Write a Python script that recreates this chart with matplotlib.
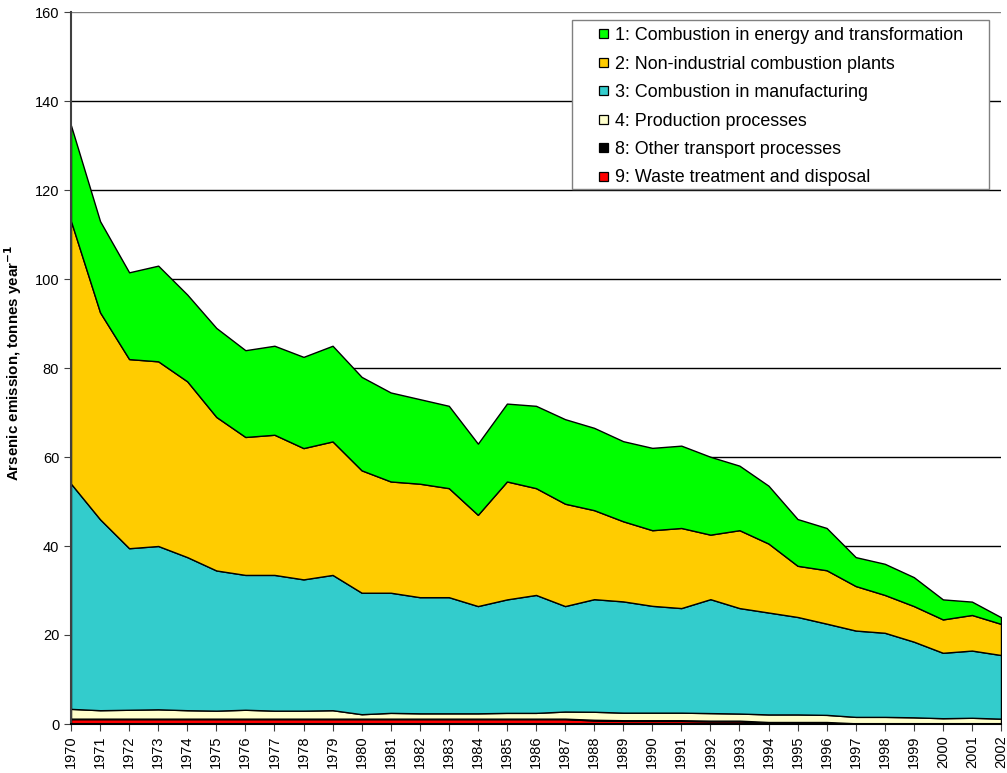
import matplotlib
matplotlib.use("Agg")
import matplotlib.pyplot as plt
import numpy as np
from matplotlib.patches import Patch, Rectangle
from matplotlib.legend_handler import HandlerPatch

years = list(range(1970, 2003))

s1_energy = [21.5, 20.5, 19.5, 21.5, 19.5, 20, 19.5, 20, 20.5, 21.5, 21, 20, 19, 18.5, 16, 17.5, 18.5,
             19, 18.5, 18, 18.5, 18.5, 17.5, 14.5, 13, 10.5, 9.5, 6.5, 7, 6.5, 4.5, 3, 1.5]
s2_nonind = [59, 46.5, 42.5, 41.5, 39.5, 34.5, 31, 31.5, 29.5, 30, 27.5, 25, 25.5, 24.5, 20.5, 26.5, 24,
             23, 20, 18, 17, 18, 14.5, 17.5, 15.5, 11.5, 12, 10, 8.5, 8, 7.5, 8, 7]
s3_manuf = [50.6, 42.9, 36.3, 36.7, 34.4, 31.5, 30.3, 30.5, 29.5, 30.4, 27.3, 27.0, 26.1, 26.1, 24.1, 25.5,
            26.5, 23.7, 25.3, 25.0, 24.0, 23.5, 25.6, 23.7, 22.9, 21.9, 20.5, 19.4, 18.9, 17.0, 14.7, 15.1, 14.3]
s4_prod = [2.2, 1.9, 2.0, 2.1, 1.9, 1.8, 2.0, 1.8, 1.8, 1.9, 1.0, 1.3, 1.2, 1.2, 1.2, 1.3, 1.3, 1.6,
           1.8, 1.7, 1.7, 1.7, 1.7, 1.6, 1.7, 1.7, 1.6, 1.45, 1.45, 1.35, 1.15, 1.25, 1.05]
s8_transport = [0.1] * 18 + [0.15] * 9 + [0.1] * 6
s9_waste = [1.1] * 18 + [0.8, 0.7, 0.7, 0.7, 0.6, 0.6, 0.3, 0.3, 0.3, 0.05, 0.05, 0.05, 0.05, 0.05, 0.05]

labels = ["1: Combustion in energy and transformation",
          "2: Non-industrial combustion plants",
          "3: Combustion in manufacturing",
          "4: Production processes",
          "8: Other transport processes",
          "9: Waste treatment and disposal"]
colors = ["#00FF00", "#FFCC00", "#33CCCC", "#FFFFCC", "#000000", "#FF0000"]

plt.rcParams['font.family'] = ['Liberation Sans', 'DejaVu Sans']

fig = plt.figure(figsize=(10.07, 7.73), dpi=100)
ax = fig.add_axes([71/1007, 49/773, 930/1007, 712/773])

# stack bottom-up: 9, 8, 4, 3, 2, 1
stack = [s9_waste, s8_transport, s4_prod, s3_manuf, s2_nonind, s1_energy]
stack_colors = colors[::-1]
ax.stackplot(years, *stack, colors=stack_colors, edgecolor='black', linewidth=1.0, zorder=2)

ax.set_xlim(1970, 2002)
ax.set_ylim(0, 160)
ax.set_yticks(np.arange(0, 161, 20))
ax.set_xticks(years)
ax.set_xticklabels([str(y) for y in years], rotation=90, fontsize=10.5)
ax.tick_params(axis='y', labelsize=10.5, length=5, color='#404040')
ax.tick_params(axis='x', length=5, color='#404040', pad=3)

for v in range(20, 161, 20):
    ax.axhline(v, color='black' if v < 160 else '#808080', linewidth=1.0, zorder=1)

ax.spines['right'].set_visible(False)
ax.spines['top'].set_visible(False)
ax.spines['left'].set_color('#404040')
ax.spines['left'].set_linewidth(1.5)
ax.spines['bottom'].set_color('black')
ax.spines['bottom'].set_linewidth(1.5)
ax.spines['left'].set_zorder(5)
ax.spines['bottom'].set_zorder(5)

ax.set_ylabel("Arsenic emission, tonnes year$^{\\mathbf{-1}}$", fontsize=10.9, fontweight='bold')
ax.yaxis.set_label_coords(-0.0505, 0.507)


def square_handle(legend, orig_handle, xdescent, ydescent, width, height, fontsize):
    s = 0.5 * fontsize
    return Rectangle((-xdescent + width - s, -ydescent + (height - s) / 2), s, s)


# legend box (frame drawn separately for exact extent)
ax.add_patch(Rectangle((0.5387, 0.7514), 0.4484, 0.2374, transform=ax.transAxes,
                       facecolor='white', edgecolor='#808080', linewidth=1.0, zorder=9))

handles = [Patch(facecolor=c, edgecolor='black', linewidth=0.9) for c in colors]
leg = ax.legend(handles, labels, loc='upper left',
                bbox_to_anchor=(0.5387, 0.7514, 0.4484, 0.2374), mode='expand', fontsize=12.9,
                frameon=False,
                handlelength=1.6, handleheight=0.7, handletextpad=0.38, labelspacing=0.64,
                borderpad=0.4, borderaxespad=0,
                handler_map={Patch: HandlerPatch(patch_func=square_handle)})
leg.set_zorder(10)

fig.savefig("out.png", dpi=100)
